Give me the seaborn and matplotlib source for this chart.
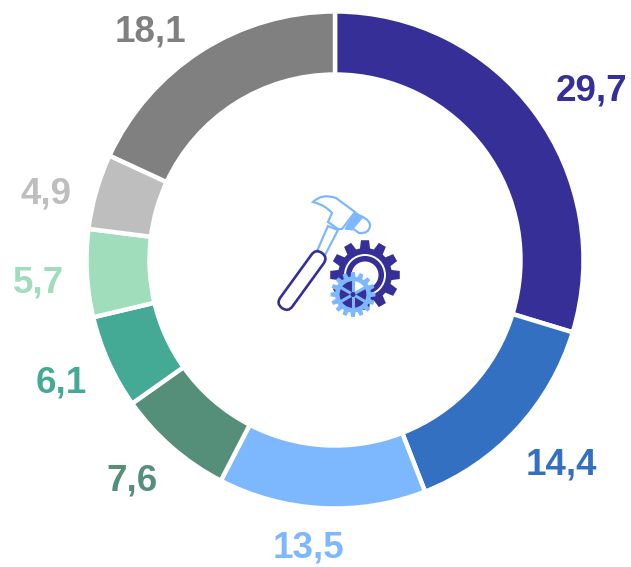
import numpy as np
import matplotlib
matplotlib.use("Agg")
import matplotlib.pyplot as plt
import seaborn as sns
from matplotlib.patches import Circle, FancyBboxPatch, PathPatch, Polygon
from matplotlib.path import Path
from matplotlib.transforms import Affine2D

# donnees
values = [29.7, 14.4, 13.5, 7.6, 6.1, 5.7, 4.9, 18.1]
labels = ["29,7", "14,4", "13,5", "7,6", "6,1", "5,7", "4,9", "18,1"]
colors = ["#372F98", "#3470C2", "#7DB8FF", "#568F79",
          "#44AA96", "#A0DDBB", "#BEBEBE", "#808080"]

# centre des etiquettes, en pixels de l'image
label_pos = [(592, 91), (561, 465), (308, 548), (132, 481),
             (61, 383), (38, 283), (46, 194), (150, 32)]

W, H = 631, 567
DARK = "#372F98"
LIGHT = "#7DB8FF"

sns.set_theme(style="white")
plt.rcParams["font.family"] = ["Liberation Sans", "DejaVu Sans"]
palette = sns.color_palette(colors)

fig = plt.figure(figsize=(W / 100, H / 100), dpi=100)
ax = fig.add_axes([0, 0, 1, 1])


def py(y):
    return H - y


ax.pie(values, colors=palette, startangle=90, counterclock=False,
       center=(335, py(260)), radius=248.5, frame=True,
       wedgeprops=dict(width=63, edgecolor="white", linewidth=3.2))
ax.set_xlim(0, W)
ax.set_ylim(0, H)
ax.set_aspect("equal")
ax.axis("off")

for lab, col, (x, y) in zip(labels, colors, label_pos):
    ax.text(x, py(y), lab, color=col, fontsize=26.5, fontweight="bold",
            ha="center", va="center")


# icone centrale (coordonnees pixels)
def zoomed(pts):
    return [(x, py(y)) for x, y in pts]


def gear(cx, cy, r_out, r_in, n, color, z=3, base=0.36, top=0.22):
    ang = []
    rad = []
    step = 2 * np.pi / n
    for i in range(n):
        a = i * step
        ang += [a - base * step, a - top * step, a + top * step, a + base * step]
        rad += [r_in, r_out, r_out, r_in]
    ang = np.array(ang)
    rad = np.array(rad)
    pts = np.c_[cx + rad * np.cos(ang), py(cy) + rad * np.sin(ang)]
    ax.add_patch(Polygon(pts, closed=True, fc=color, ec="none", zorder=z))


# manche
shaft = zoomed([(314, 258), (328, 226), (338, 230), (323, 259)])
ax.add_patch(Polygon(shaft, closed=True, fc="white", ec=LIGHT, lw=1.6, zorder=3))

# poignee
grip = FancyBboxPatch((-34, -7.5), 68, 15, boxstyle="round,pad=0,rounding_size=7.5",
                      fc="white", ec=DARK, lw=1.9, zorder=4)
grip.set_transform(Affine2D().rotate_deg(54).translate(302, py(280.5)) + ax.transData)
ax.add_patch(grip)

# tete du marteau
head = Path(zoomed([(313, 202), (322, 193), (336, 198), (355, 212),
                    (355, 212), (342, 229), (338, 229), (328, 222), (332, 213),
                    (332, 213), (325, 205), (313, 202), (313, 202)]),
            [Path.MOVETO, Path.CURVE3, Path.CURVE3, Path.LINETO,
             Path.LINETO, Path.LINETO, Path.LINETO, Path.LINETO, Path.LINETO,
             Path.LINETO, Path.CURVE3, Path.CURVE3, Path.CLOSEPOLY])
ax.add_patch(PathPatch(head, fc="white", ec=LIGHT, lw=1.6, zorder=3))
band = zoomed([(345, 229), (355, 212), (363, 217), (352, 230)])
ax.add_patch(Polygon(band, closed=True, fc=LIGHT, ec=LIGHT, lw=0.8, zorder=4))
poll = Path(zoomed([(361, 216), (371, 221), (370, 226), (369, 234),
                    (359, 233), (352, 228)]),
            [Path.MOVETO, Path.CURVE3, Path.CURVE3, Path.CURVE3,
             Path.CURVE3, Path.LINETO])
ax.add_patch(PathPatch(poll, fc="white", ec=LIGHT, lw=1.6, zorder=3))

# grande roue
gear(365, 275, 35, 27, 12, DARK)
ax.add_patch(Circle((365, py(275)), 20, fc="none", ec="white", lw=1.4, zorder=4))
ax.add_patch(Circle((365, py(275)), 13.5, fc="white", ec="none", zorder=4))

# petite roue
sx, sy = 353, 294.5
gear(sx, sy, 22.5, 18, 16, LIGHT, z=5)
ax.add_patch(Circle((sx, py(sy)), 14.5, fc="white", ec="none", zorder=5))
for i, a in enumerate(np.arange(0, 360, 60) + 30):
    t = np.radians(np.linspace(a, a + 60, 12))
    xs = np.r_[sx, sx + 14.5 * np.cos(t)]
    ys = np.r_[py(sy), py(sy) + 14.5 * np.sin(t)]
    # le haut de la roue laisse voir le blanc du moyeu
    col = "white" if 0 <= (a % 360) < 90 else DARK
    ax.add_patch(Polygon(np.c_[xs, ys], closed=True, fc=col, ec="none", zorder=5))
    x1 = sx + 14.5 * np.cos(np.radians(a))
    y1 = py(sy) + 14.5 * np.sin(np.radians(a))
    ax.plot([sx, x1], [py(sy), y1], color=LIGHT, lw=2.2, zorder=6,
            solid_capstyle="butt")
ax.add_patch(Circle((sx, py(sy)), 14.5, fc="none", ec=LIGHT, lw=1.6, zorder=6))
ax.add_patch(Circle((sx, py(sy)), 2.5, fc=DARK, ec="none", zorder=7))

fig.savefig("out.png", dpi=100, facecolor="white")
